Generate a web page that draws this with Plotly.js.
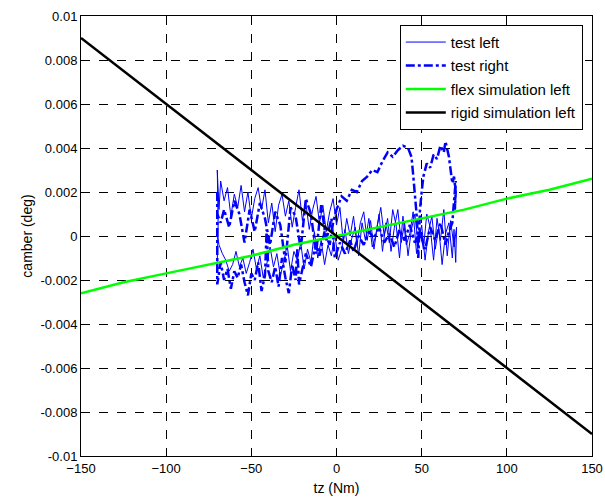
<!DOCTYPE html>
<html><head><meta charset="utf-8">
<script src="https://cdn.plot.ly/plotly-3.0.1.min.js"></script>
<style>html,body{margin:0;padding:0;background:#fff}#chart{width:605px;height:501px}</style>
</head><body><div id="chart"></div>
<script>
// test left (thin solid)
const leftX = [-70,-69.5,-70,-69,-68,-66,-64,-62,-60,-58,-56,-54,-52,-50,-48,-46,-44,-42,-40,-38,-36,-34,-32,-30,-28,-26,-24,-22,-20,-18,-16,-14,-12,-10,-8,-6,-4,-2,0,2,
 4,6,8,10,12,14,16,18,20,22,24,26,28,30,32,34,36,38,40,42,44,46,48,50,52,54,56,58,60,62,64,66,68,69,70,70.5,
 69,67,65,63,61,59,57,55,53,51,49,47,45,43,41,39,37,35,33,31,29,27,25,23,21,19,17,15,13,11,9,7,5,3,1,-1,-3,-5,-7,-9,-11,-13,-15,-17,-19,-21,-23,-25,-27,-29,-31,-33,-35,-37,-39,-41,-43,-45,-47,-49,-51,-53,-55,-57,-59,-61,-63,-65,-67,-69,-70];
const leftY = [-0.0012,0.0005,0.0030,0.0012,0.0025,0.0016,0.0022,0.0009,0.0019,0.0013,0.0023,0.0011,0.0020,0.0008,0.0017,0.0022,0.0012,0.0021,0.0006,0.0015,0.0002,0.0014,0.0019,0.0009,0.0016,0.0004,0.0013,0.0021,0.0007,0.0015,0.0003,0.0012,0.0018,0.0006,0.0014,0.0002,0.0011,0.0017,0.0005,0.0013,
 -0.0003,0.0008,0.0000,0.0009,-0.0004,0.0006,0.0011,-0.0002,0.0007,-0.0006,0.0005,0.0013,0.0000,0.0008,-0.0007,0.0004,0.0012,-0.0003,0.0006,-0.0009,0.0003,0.0010,-0.0004,0.0005,-0.0011,0.0002,0.0009,-0.0006,0.0004,-0.0013,0.0001,0.0006,-0.0010,0.0003,-0.0012,0.0004,
 -0.0005,0.0007,-0.0009,0.0012,-0.0002,0.0008,-0.0011,0.0004,0.0010,-0.0006,0.0003,-0.0008,0.0011,0.0001,-0.0004,0.0009,-0.0010,0.0005,0.0012,-0.0003,0.0006,-0.0007,0.0010,0.0000,-0.0005,0.0008,-0.0002,0.0006,-0.0009,0.0004,-0.0001,-0.0008,0.0003,-0.0006,-0.0011,0.0001,-0.0009,-0.0004,-0.0013,-0.0002,-0.0010,0.0002,-0.0012,-0.0006,-0.0015,-0.0003,-0.0011,-0.0007,-0.0016,-0.0004,-0.0012,-0.0018,-0.0008,-0.0014,-0.0005,-0.0013,-0.0019,-0.0009,-0.0015,-0.0006,-0.0012,-0.0017,-0.0010,-0.0014,-0.0007,-0.0013,-0.0016,-0.0011,-0.0008,-0.0004,0.0001];
// test right (dash-dot)
const rightX = [-70,-70,-68,-66,-64,-62,-60,-58,-56,-54,-52,-50,-48,-46,-44,-42,-41,-40,-38,-36,-34,-32,-30,-28,-26,-24,-23,-22,-20,-18,-15,-12,-10,-7,-4,-2,
 0,3,6,9,12,15,18,21,24,27,30,33,36,39,42,44,45,46,47,47.5,48,48.5,49,50,51,53,55,57,59,61,63,64,66,67,68,69,70,69.5,70,69,68,66,
 64,61,58,55,52,49,46,43,40,37,34,31,28,25,22,19,16,13,10,8,5,2,
 -1,-3,-6,-9,-12,-15,-18,-21,-24,-27,-30,-33,-36,-39,-42,-45,-48,-51,-54,-57,-60,-63,-66,-68,-70];
const rightY = [0.0020,-0.0022,-0.0012,-0.0020,-0.0015,-0.0024,-0.0016,-0.0019,-0.0013,-0.0021,-0.0027,-0.0017,-0.0020,-0.0012,-0.0025,-0.0018,0.0003,-0.0016,-0.0021,-0.0014,-0.0023,-0.0010,-0.0019,-0.0026,-0.0013,-0.0020,-0.0006,-0.0022,-0.0015,-0.0008,-0.0014,-0.0003,-0.0009,0.0002,-0.0004,0.0006,
 0.0012,0.0018,0.0016,0.0021,0.0020,0.0025,0.0027,0.0030,0.0029,0.0034,0.0038,0.0036,0.0039,0.0041,0.0040,0.0036,0.0028,0.0020,0.0010,0.0003,-0.0010,0.0000,0.0012,0.0020,0.0027,0.0033,0.0031,0.0037,0.0035,0.0041,0.0038,0.0043,0.0036,0.0030,0.0024,0.0027,0.0020,0.0012,0.0025,0.0016,0.0006,0.0002,
 -0.0004,0.0006,-0.0002,0.0004,-0.0006,0.0002,-0.0003,0.0005,-0.0002,0.0003,-0.0005,0.0001,-0.0003,0.0004,-0.0001,0.0002,-0.0004,0.0000,-0.0007,-0.0002,-0.0008,-0.0003,
 -0.0010,0.0008,-0.0002,0.0014,-0.0008,0.0010,0.0017,-0.0006,0.0009,0.0013,-0.0012,0.0005,0.0011,-0.0004,0.0008,0.0015,0.0002,0.0012,-0.0003,0.0010,0.0016,0.0004,0.0012,0.0006,0.0010];
// flex simulation left (green)
const flexX = [-150,-125,-100,-75,-50,-25,0,25,50,75,100,125,150];
const flexY = [-0.0026,-0.0021,-0.0017,-0.0013,-0.0009,-0.0004,0.0000,0.0004,0.0008,0.0012,0.0017,0.0021,0.0026];
// rigid simulation left (black)
const rigidX = [-150,-100,-50,0,50,100,150];
const rigidY = [0.009,0.006,0.003,0.000,-0.003,-0.006,-0.009];
const yTickVals = [0.01,0.008,0.006,0.004,0.002,0,-0.002,-0.004,-0.006,-0.008,-0.01];
const yTickText = ['0.01','0.008','0.006','0.004','0.002','0','-0.002','-0.004','-0.006','-0.008','-0.01'];
const xTickVals = [-150,-100,-50,0,50,100,150];
const names = ['test left','test right','flex simulation left','rigid simulation left'];

const traces = [
 {x:leftX,y:leftY,name:names[0],legendgroup:'a',mode:'lines',line:{color:'#0000ff',width:1}},
 {x:rightX,y:rightY,name:names[1],legendgroup:'b',mode:'lines',line:{color:'#0000ff',width:2.5,dash:'dashdot'}},
 {x:flexX,y:flexY,name:names[2],legendgroup:'c',mode:'lines',line:{color:'#00ff00',width:2.5}},
 {x:rigidX,y:rigidY,name:names[3],legendgroup:'d',mode:'lines',line:{color:'#000000',width:2.5}}
];
const axBase = {showline:true,mirror:'ticks',linecolor:'#000',linewidth:1,ticks:'inside',ticklen:5,tickcolor:'#000',
 showgrid:true,gridcolor:'#000',griddash:'dash',gridwidth:1,zeroline:false,
 tickfont:{family:'Liberation Sans, Arial, sans-serif',size:13,color:'#000'}};
const layout = {
 width:605,height:501,margin:{l:81,r:13,t:16,b:45},
 paper_bgcolor:'#fff',plot_bgcolor:'#fff',
 font:{family:'Liberation Sans, Arial, sans-serif',size:13,color:'#000'},
 xaxis:Object.assign({},axBase,{range:[-150,150],tickvals:xTickVals,
   title:{text:'tz (Nm)',standoff:8,font:{size:14}}}),
 yaxis:Object.assign({},axBase,{range:[-0.01,0.01],tickvals:yTickVals,ticktext:yTickText,
   title:{text:'camber (deg)',standoff:4,font:{size:14}}}),
 showlegend:true,
 legend:{x:0.982,y:0.98,xanchor:'right',yanchor:'top',bgcolor:'#fff',bordercolor:'#000',borderwidth:1,
   font:{size:15},tracegroupgap:1,itemwidth:40}
};
Plotly.newPlot('chart',traces,layout,{displayModeBar:false,staticPlot:true});
</script></body></html>
